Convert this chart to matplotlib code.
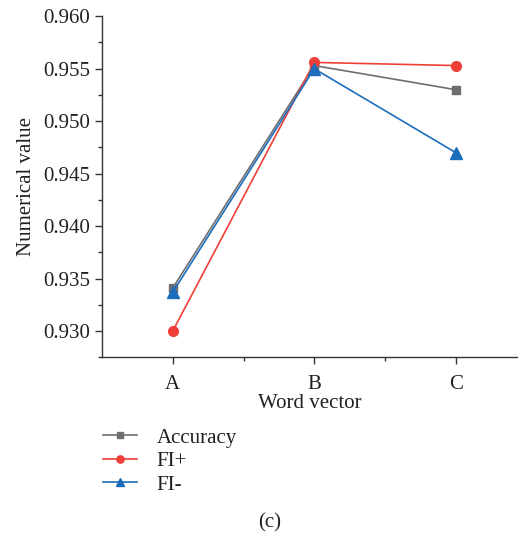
import matplotlib
matplotlib.use("Agg")
import matplotlib.pyplot as plt
from matplotlib.ticker import MultipleLocator, FixedLocator, FormatStrFormatter

categories = ["A", "B", "C"]
accuracy = [0.9341, 0.9553, 0.9530]
fi_plus = [0.9300, 0.9556, 0.9553]
fi_minus = [0.9337, 0.9550, 0.9470]
series_names = ["Accuracy", "FI+", "FI-"]

plt.rcParams["font.family"] = ["Liberation Serif", "DejaVu Serif"]

fig = plt.figure(figsize=(5.18, 5.42), dpi=100)
ax = fig.add_axes([0.197, 0.341, 0.803, 0.629])

x = list(range(len(categories)))
gray, red, blue = "#6d6e71", "#ee4036", "#1c6dbb"
l1, = ax.plot(x, accuracy, color=gray, marker="s", markersize=6, lw=1.2)
l2, = ax.plot(x, fi_plus, color=red, marker="o", markersize=7, lw=1.2)
l3, = ax.plot(x, fi_minus, color=blue, marker="^", markersize=8, lw=1.2)

ax.set_xlim(-0.5, 2.44)
ax.set_ylim(0.9275, 0.960)
ax.set_xticks(x)
ax.set_xticklabels(categories)
ax.xaxis.set_minor_locator(FixedLocator([0.5, 1.5]))
ax.yaxis.set_major_locator(MultipleLocator(0.005))
ax.yaxis.set_minor_locator(MultipleLocator(0.0025))
ax.yaxis.set_major_formatter(FormatStrFormatter("%.3f"))

for s in ["top", "right"]:
    ax.spines[s].set_visible(False)
for s in ["left", "bottom"]:
    ax.spines[s].set_color("#333333")
    ax.spines[s].set_linewidth(1.0)

ax.tick_params(which="major", direction="out", length=5, width=1.0,
               labelsize=15, color="#333333", labelcolor="#231f20")
ax.tick_params(axis="x", which="major", pad=7.5)
ax.tick_params(which="minor", direction="out", length=3, width=1.0, color="#333333")

ax.set_xlabel("Word vector", fontsize=15, color="#231f20", labelpad=0.5)
ax.set_ylabel("Numerical value", fontsize=15, color="#231f20", labelpad=5)

fig.legend([l1, l2, l3], series_names, loc="upper left",
           bbox_to_anchor=(0.162, 0.245), frameon=False, fontsize=15,
           handlelength=1.65, handletextpad=0.95, labelspacing=0.19,
           markerscale=0.75, labelcolor="#231f20")

fig.text(0.521, 0.035, "(c)", ha="center", va="center", fontsize=15, color="#231f20")

fig.savefig("out.png", dpi=100)
